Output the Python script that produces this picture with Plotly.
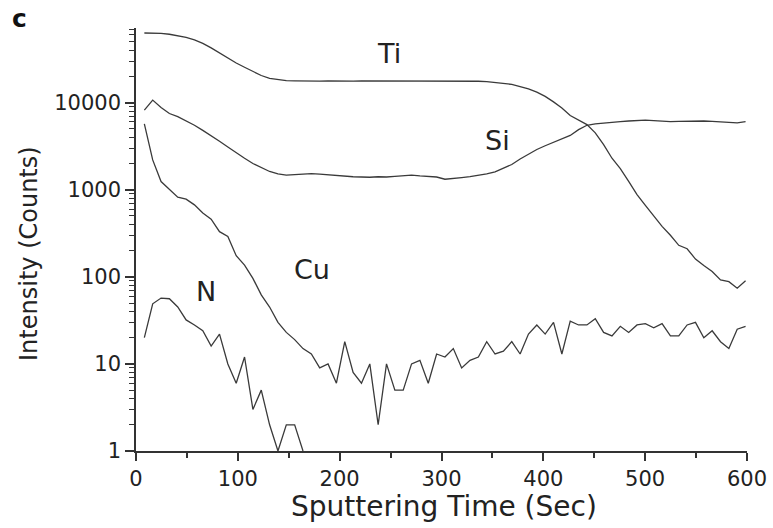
import plotly.graph_objects as go

# Sputtering time (s) for each measured point
TIME = [8.2, 16.4, 24.6, 32.8, 41, 49.2, 57.4, 65.6, 73.8, 82, 90.2, 98.4, 106.6, 114.8,
        123, 131.2, 139.4, 147.6, 155.8, 164, 172.2, 180.4, 188.6, 196.8, 205, 213.2,
        221.4, 229.6, 237.8, 246, 254.2, 262.4, 270.6, 278.8, 287, 295.2, 303.4, 311.6,
        319.8, 328, 336.2, 344.4, 352.6, 360.8, 369, 377.2, 385.4, 393.6, 401.8, 410,
        418.2, 426.4, 434.6, 442.8, 451, 459.2, 467.4, 475.6, 483.8, 492, 500.2, 508.4,
        516.6, 524.8, 533, 541.2, 549.4, 557.6, 565.8, 574, 582.2, 590.4, 598.6]

TI = [63000, 63000, 62500, 61000, 59000, 56000, 52500, 48000, 42500, 37000, 32000, 28500,
      25500, 22800, 20500, 19000, 18300, 17900, 17800, 17700, 17600, 17700, 17800, 17700,
      17600, 17700, 17800, 17800, 17700, 17800, 17900, 17800, 17700, 17800, 17800, 17700,
      17800, 17900, 17800, 17700, 17600, 17400, 17100, 16800, 16200, 15300, 14400, 13200,
      11800, 10200, 8700, 7100, 6300, 5600, 4500, 3300, 2300, 1750, 1250, 880, 660, 500,
      380, 300, 230, 210, 160, 135, 115, 92, 88, 74, 90]

SI = [8200, 10700, 8800, 7500, 6900, 6200, 5500, 4800, 4200, 3600, 3100, 2650, 2300, 2000,
      1780, 1620, 1520, 1470, 1490, 1510, 1530, 1510, 1480, 1450, 1420, 1410, 1400, 1390,
      1410, 1400, 1420, 1450, 1470, 1440, 1410, 1400, 1320, 1340, 1380, 1410, 1450, 1520,
      1600, 1750, 1950, 2250, 2550, 2900, 3200, 3500, 3800, 4200, 4900, 5500, 5700, 5850,
      5950, 6050, 6150, 6250, 6300, 6200, 6100, 6050, 6100, 6150, 6200, 6150, 6100, 6050,
      5950, 5850, 6050]

CU = [5700, 2200, 1240, 1000, 820, 780, 670, 540, 460, 330, 290, 175, 136, 96, 62, 45, 30,
      23, 19, 15, 13, 9, 10, 6, 18, 8, 6, 10, 2, 10, 5, 5, 10, 11, 6, 13, 12, 15, 9, 11, 12,
      18, 13, 14, 18, 13, 22, 28, 22, 30, 13, 31, 28, 28, 33, 23, 21, 27, 23, 28, 29, 26,
      29, 21, 21, 28, 30, 20, 24, 18, 15, 25, 27]

N = [20, 49, 57, 56, 45, 32, 28, 24, 16, 22, 10, 6, 12, 3, 5, 2, 1, 2, 2, 1]

X_TICKS = [0, 100, 200, 300, 400, 500, 600]
Y_TICKS = [1, 10, 100, 1000, 10000]
Y_TICK_TEXT = ["1", "10", "100", "1000", "10000"]
LABELS = ["Ti", "Si", "Cu", "N"]

FONT = "DejaVu Sans"
LINE = "#3a3a3a"
TXT = "#222222"

fig = go.Figure()
for name, ys in [("Ti", TI), ("Si", SI), ("Cu", CU), ("N", N)]:
    fig.add_trace(go.Scatter(x=TIME[:len(ys)], y=ys, mode="lines", name=name,
                             line=dict(color=LINE, width=1.3), showlegend=False))

y_minor = [m * 10 ** k for k in range(0, 5) for m in range(2, 10) if m * 10 ** k < 72000]
x_minor = [50, 150, 250, 350, 450, 550]

fig.update_xaxes(range=[0, 600], tickvals=X_TICKS, ticks="outside", ticklen=8, tickwidth=1.5,
                 tickcolor="#333", showline=True, linecolor="#333", linewidth=1.5,
                 showgrid=False, zeroline=False, automargin=False,
                 tickfont=dict(family=FONT, size=21, color=TXT),
                 minor=dict(tickmode="array", tickvals=x_minor, ticks="outside", ticklen=5,
                            tickwidth=1.5, tickcolor="#333", showgrid=False))
fig.update_yaxes(type="log", range=[0, 4.857], tickvals=Y_TICKS, ticktext=Y_TICK_TEXT,
                 ticks="outside", ticklen=9, tickwidth=1.5, tickcolor="#333",
                 showline=True, linecolor="#333", linewidth=1.5, showgrid=False,
                 zeroline=False, automargin=False, tickfont=dict(family=FONT, size=21, color=TXT),
                 minor=dict(tickmode="array", tickvals=y_minor, ticks="outside", ticklen=5,
                            tickwidth=1.2, tickcolor="#333", showgrid=False))

ann_pos = {"Ti": (0.414, 0.940), "Si": (0.591, 0.733), "Cu": (0.288, 0.429), "N": (0.114, 0.377)}
for lab in LABELS:
    x, y = ann_pos[lab]
    fig.add_annotation(x=x, y=y, xref="paper", yref="paper", text=lab, showarrow=False,
                       font=dict(family=FONT, size=27, color=TXT), xanchor="center", yanchor="middle")

fig.add_annotation(x=-0.19, y=1.022, xref="paper", yref="paper", text="<b>c</b>", showarrow=False,
                   font=dict(family=FONT, size=25, color="#111"), xanchor="center", yanchor="middle")
fig.add_annotation(x=0.504, y=-0.132, xref="paper", yref="paper", text="Sputtering Time (Sec)",
                   showarrow=False, font=dict(family=FONT, size=28, color=TXT),
                   xanchor="center", yanchor="middle")
fig.add_annotation(x=-0.175, y=0.466, xref="paper", yref="paper", text="Intensity (Counts)",
                   textangle=-90, showarrow=False, font=dict(family=FONT, size=24, color=TXT),
                   xanchor="center", yanchor="middle")

fig.update_layout(width=773, height=528, margin=dict(l=136, r=26, t=28, b=77),
                  plot_bgcolor="white", paper_bgcolor="white")

fig.write_html("out.html", config={"displayModeBar": False},
               post_script="document.body.style.margin='0';document.body.style.padding='0';"
                           "document.body.style.overflow='hidden';")
